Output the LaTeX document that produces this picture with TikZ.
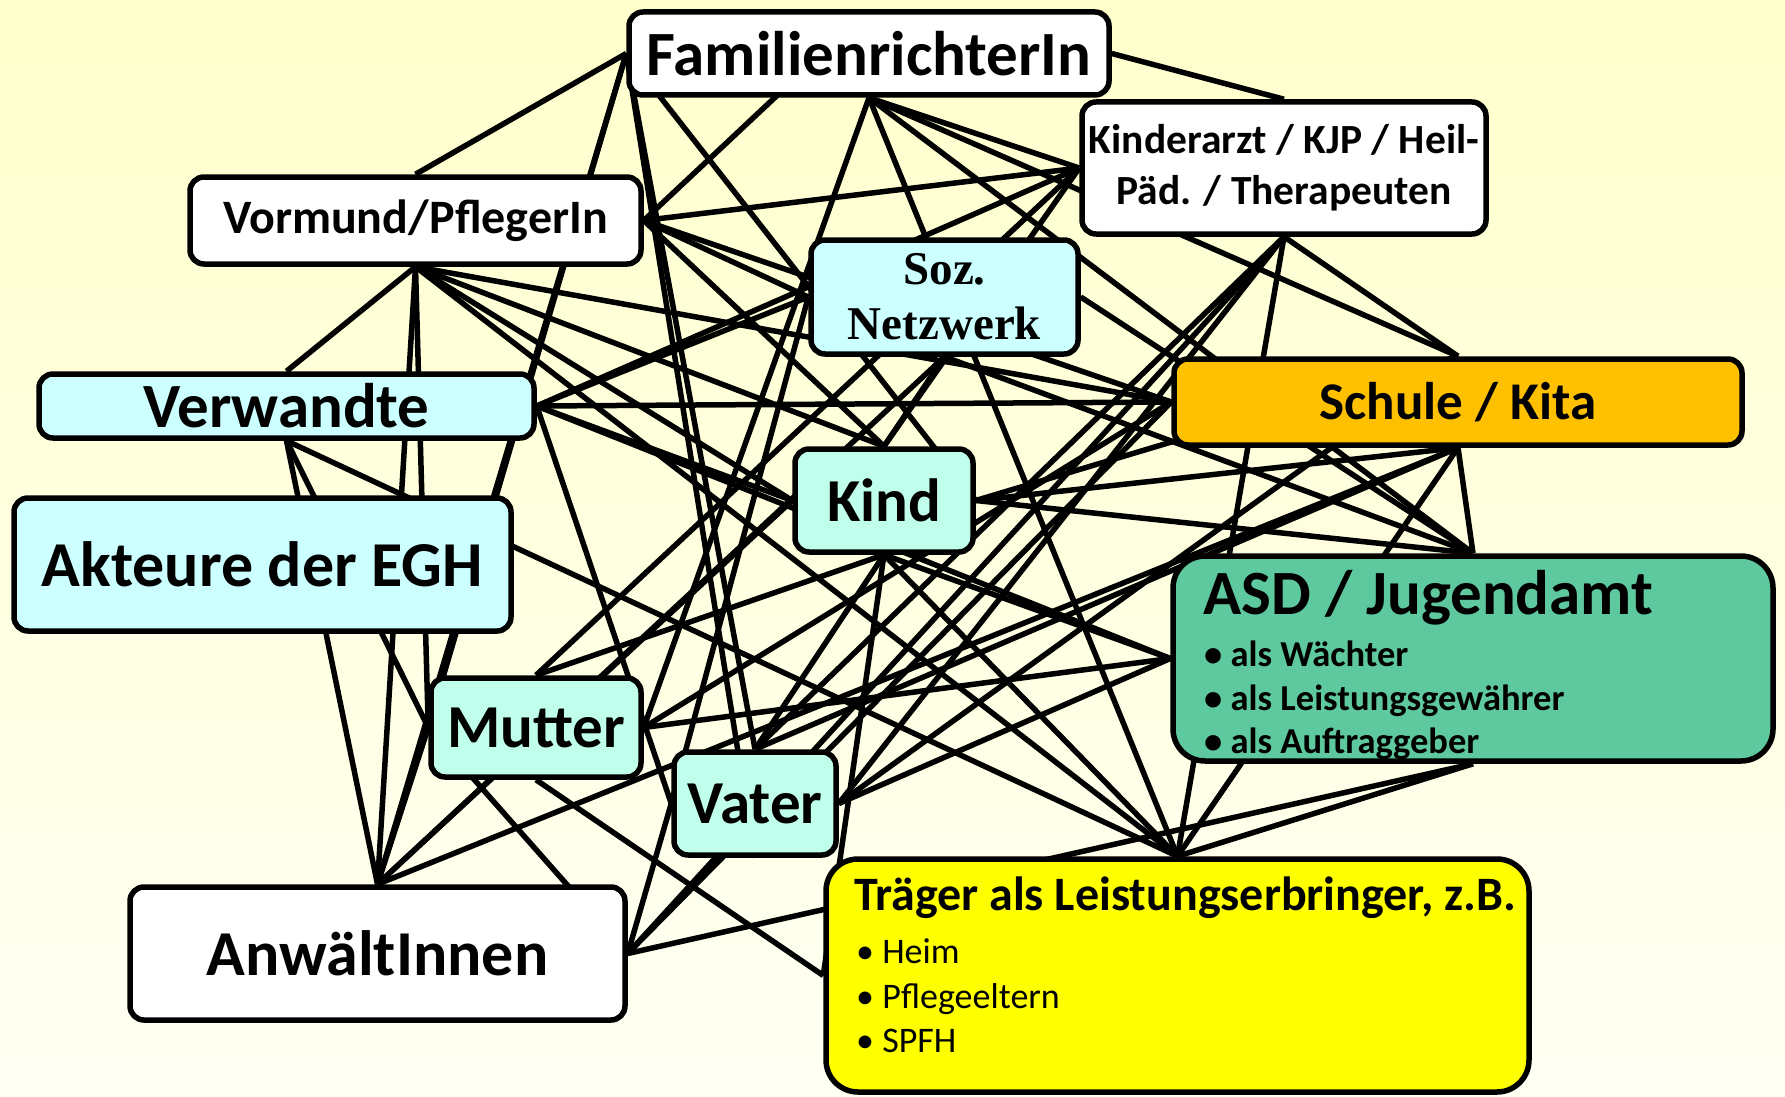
\documentclass[tikz,border=0pt]{standalone}
\usepackage{fontspec}
\setmainfont{Carlito}
\newfontfamily\serifbold{Liberation Serif}
\pgfdeclarelayer{bg}
\pgfsetlayers{bg,main}
\definecolor{bgtop}{RGB}{255,255,204}
\definecolor{bgbot}{RGB}{255,255,244}
\definecolor{cyanbox}{RGB}{204,255,255}
\definecolor{mintbox}{RGB}{192,255,236}
\definecolor{orangebox}{RGB}{255,192,0}
\definecolor{greenbox}{RGB}{94,200,158}
\definecolor{yellowbox}{RGB}{255,255,0}
\newcommand\fsz[2]{\fontsize{#1pt}{#2pt}\selectfont}
\begin{document}
\begin{tikzpicture}[x=1pt,y=-1pt,
  box/.style={draw=black, line width=5.5pt, rounded corners=14pt, inner sep=0pt},
  bigbox/.style={box, rounded corners=32pt},
  link/.style={draw=black, line width=5.5pt},
  txt/.style={inner sep=0pt, anchor=base west}]
\useasboundingbox (0,0) rectangle (1785,1097);
% boxes
\node[box, fill=white, minimum width=480pt, minimum height=83pt, font=\bfseries\fsz{63}{63}] (fam) at (869,53.5) {FamilienrichterIn};
\node[box, fill=white, minimum width=404pt, minimum height=132pt, align=center, font=\bfseries\fsz{41.5}{51}] (kin) at (1284,168) {Kinderarzt / KJP / Heil-\\Päd. / Therapeuten};
\node[box, fill=white, minimum width=451pt, minimum height=87pt, font=\bfseries\fsz{48}{48}] (vor) at (415.5,220.5) {Vormund/PflegerIn};
\node[box, fill=cyanbox, minimum width=267pt, minimum height=114pt, align=center, font=\serifbold\bfseries\fsz{47}{55}] (soz) at (944.5,297) {Soz.\\Netzwerk};
\node[box, fill=cyanbox, minimum width=495pt, minimum height=64pt, font=\bfseries\fsz{63}{63}] (ver) at (286.5,406) {Verwandte};
\node[box, fill=orangebox, minimum width=568pt, minimum height=86pt, font=\bfseries\fsz{53}{53}] (sch) at (1458,402) {Schule / Kita};
\node[box, fill=mintbox, minimum width=178pt, minimum height=103pt, font=\bfseries\fsz{61}{61}] (kind) at (884,500.5) {Kind};
\node[box, fill=cyanbox, minimum width=497pt, minimum height=133pt, font=\bfseries\fsz{64}{64}] (akt) at (262.5,564.5) {Akteure der EGH};
\node[bigbox, fill=greenbox, minimum width=600pt, minimum height=205pt] (asd) at (1473,658.5) {};
\node[box, fill=mintbox, minimum width=210pt, minimum height=99pt, font=\bfseries\fsz{61}{61}] (mut) at (536,727.5) {Mutter};
\node[box, fill=mintbox, minimum width=162pt, minimum height=103pt, font=\bfseries\fsz{61}{61}] (vat) at (755,803.5) {Vater};
\node[box, fill=white, minimum width=495pt, minimum height=133pt, font=\bfseries\fsz{64}{64}] (anw) at (377.5,953.5) {AnwältInnen};
\node[bigbox, fill=yellowbox, minimum width=703pt, minimum height=233pt] (tra) at (1177.5,975.5) {};
% text inside ASD and Traeger
\node[txt, font=\bfseries\fsz{63}{63}] (asdT) at (1203,614) {ASD / Jugendamt};
\node[txt, font=\bfseries\fsz{36.5}{36.5}] (asdA) at (1204,666) {• als Wächter};
\node[txt, font=\bfseries\fsz{36.5}{36.5}] (asdB) at (1204,710) {• als Leistungsgewährer};
\node[txt, font=\bfseries\fsz{36.5}{36.5}] (asdC) at (1204,753) {• als Auftraggeber};
\node[txt, font=\bfseries\fsz{48}{48}] (traT) at (854,910) {Träger als Leistungserbringer, z.B.};
\node[txt, font=\fsz{36}{36}] (traA) at (856,963) {• Heim};
\node[txt, font=\fsz{36}{36}] (traB) at (856,1008) {• Pflegeeltern};
\node[txt, font=\fsz{36}{36}] (traC) at (856,1052) {• SPFH};
% background and connectors
\begin{pgfonlayer}{bg}
\fill[top color=bgtop, bottom color=bgbot] (0,0) rectangle (1785,1097);
\draw[link] (fam.west) -- (vor.north);
\draw[link] (fam.east) -- (kin.north);
\draw[link] (fam.south) -- (kin.west);
\draw[link] (fam.south) -- (sch.north);
\draw[link] (fam.south) -- (asd.north);
\draw[link] (fam.south) -- (tra.north);
\draw[link] (fam.south) -- (mut.east);
\draw[link, shorten <=10pt] (fam.north) -- (vor.east);
\draw[link] (fam.west) -- (kind.east);
\draw[link] (fam.west) -- (anw.north);
\draw[link] (fam.west) -- (mut.west);
\draw[link] (fam.west) -- (vat.north);
\draw[link] (fam.west) -- (vat.south);
\draw[link] (kin.west) -- (vor.east);
\draw[link] (kin.west) -- (ver.east);
\draw[link] (kin.west) -- (mut.north);
\draw[link] (kin.west) -- (kind.north);
\draw[link] (kin.south) -- (sch.north);
\draw[link] (kin.south) -- (tra.north);
\draw[link] (kin.south) -- (vat.north);
\draw[link] (kin.south) -- (anw.east);
\draw[link] (kin.south) -- (vat.east);
\draw[link] (vor.south) -- (ver.north);
\draw[link] (vor.south) -- (anw.north);
\draw[link] (vor.south) -- (mut.west);
\draw[link] (vor.south) -- (sch.west);
\draw[link] (vor.south) -- (kind.north);
\draw[link] (vor.south) -- (kind.west);
\draw[link] (vor.south) -- (tra.north);
\draw[link] (vor.east) -- (sch.west);
\draw[link] (vor.east) -- (soz.west);
\draw[link] (vor.east) -- (kind.north);
\draw[link] (ver.east) -- (soz.west);
\draw[link] (ver.east) -- (sch.west);
\draw[link] (ver.east) -- (kind.west);
\draw[link] (ver.east) -- (asd.west);
\draw[link] (ver.east) -- (vat.west);
\draw[link] (ver.south) -- (anw.north);
\draw[link] (ver.south) -- (mut.west);
\draw[link] (ver.south) -- (tra.north);
\draw[link] (soz.west) -- (vat.west);
\draw[link] (soz.south) -- (kind.north);
\draw[link] (soz.south) -- (asd.north);
\draw[link] (soz.south) -- (anw.north);
\draw[link] (soz.east) -- (asd.north);
\draw[link] (kind.south) -- (tra.west);
\draw[link] (kind.south) -- (asd.west);
\draw[link] (kind.south) -- (vat.north);
\draw[link] (kind.south) -- (mut.north);
\draw[link] (kind.south) -- (tra.north);
\draw[link] (kind.west) -- (anw.north);
\draw[link] (kind.east) -- (sch.south);
\draw[link] (kind.east) -- (asd.north);
\draw[link] (kind.east) -- (sch.north);
\draw[link] (sch.west) -- (mut.east);
\draw[link] (sch.west) -- (anw.east);
\draw[link] (sch.south) -- (tra.north);
\draw[link] (sch.south) -- (asd.north);
\draw[link] (sch.south) -- (vat.north);
\draw[link] (sch.south) -- (anw.north);
\draw[link] (asd.south) -- (tra.north);
\draw[link] (asd.south) -- (anw.east);
\draw[link] (asd.west) -- (mut.east);
\draw[link] (asd.west) -- (vat.east);
\draw[link] (vat.east) -- (sch.north);
\draw[link] (mut.west) -- (anw.north);
\draw[link] (mut.west) -- (anw.east);
\draw[link] (mut.south) -- (tra.west);
\draw[link] (vat.west) -- (anw.east);
\end{pgfonlayer}
\end{tikzpicture}
\end{document}
